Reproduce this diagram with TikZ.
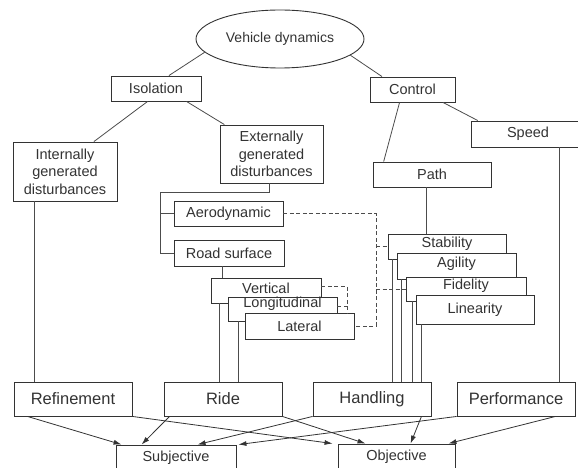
\documentclass[tikz,border=0pt]{standalone}
\usepackage{fontspec}
\setmainfont{Liberation Sans}
\usetikzlibrary{arrows.meta, shapes.geometric}

\begin{document}
\begin{tikzpicture}[x=1pt, y=-1pt,
      box/.style={draw=black!80, line width=0.9pt, fill=white, inner sep=0pt, text=black!80, align=center, font=\fontsize{14.5}{17.5}\selectfont},
      bigbox/.style={box, minimum width=118pt, minimum height=34pt, font=\fontsize{16.5}{19}\selectfont},
      oval/.style={ellipse, draw=black!80, line width=0.9pt, inner sep=0pt, minimum width=168pt, minimum height=58pt, text=black!80, font=\fontsize{14}{17}\selectfont},
      tag/.style={text=black!80, font=\fontsize{14.5}{17.5}\selectfont},
      conn/.style={black!70, line width=0.8pt},
      dashline/.style={black!70, line width=0.9pt, dash pattern=on 4pt off 2.5pt},
      arrow/.style={black!80, line width=0.8pt, -{Latex[length=8pt, width=5pt]}}
      ]
    \useasboundingbox (0,0) rectangle (578,468);
    \clip (0,0) rectangle (578,468);

    % Nodes
    \node[oval] (vd) at (280,39) {Vehicle dynamics};
    \node[box, minimum width=90pt, minimum height=25pt] (isolation) at (156,88.5) {Isolation};
    \node[box, minimum width=85pt, minimum height=25pt] (control) at (412.5,89.5) {Control};
    \node[box, minimum width=104pt, minimum height=59pt] (internal) at (65,171.5) {Internally\\generated\\disturbances};
    \node[box, minimum width=103pt, minimum height=58pt] (external) at (271.5,154) {Externally\\generated\\disturbances};
    \node[box, minimum width=114pt, minimum height=26pt] (speed) at (528,134) {Speed};
    \node[box, minimum width=118pt, minimum height=25pt] (pathctl) at (432,174.5) {Path};
    \node[box, minimum width=109pt, minimum height=25pt] (aero) at (228.5,213.5) {Aerodynamic};
    \node[box, minimum width=110pt, minimum height=26pt] (road) at (229,253) {Road surface};
    \node[box, minimum width=110pt, minimum height=25pt, label={[tag, yshift=2.5pt]center:Vertical}] (vert) at (266,290.5) {};
    \node[box, minimum width=109pt, minimum height=24pt, label={[tag, yshift=5pt]center:Longitudinal}] (longit) at (282.5,309) {};
    \node[box, minimum width=109pt, minimum height=26pt] (lat) at (299.5,326) {Lateral};
    \node[box, minimum width=118pt, minimum height=25pt, label={[tag, yshift=2.5pt]center:Stability}] (stab) at (447,246.5) {};
    \node[box, minimum width=119pt, minimum height=26pt, label={[tag, yshift=2pt]center:Agility}] (agil) at (456.5,266) {};
    \node[box, minimum width=120pt, minimum height=24pt, label={[tag, yshift=3pt]center:Fidelity}] (fid) at (466,289) {};
    \node[box, minimum width=118pt, minimum height=29pt] (lin) at (475,309.5) {Linearity};
    \node[bigbox] (refine) at (73,399) {Refinement};
    \node[bigbox] (ride) at (223,399) {Ride};
    \node[bigbox] (handling) at (372,399) {Handling};
    \node[bigbox] (perf) at (516,399) {Performance};
    \node[box, minimum width=120pt, minimum height=26pt] (subj) at (176,458) {Subjective};
    \node[box, minimum width=117pt, minimum height=26pt] (obj) at (396.5,457) {Objective};

    % Tree
    \draw[conn] (vd.190) -- (isolation.45);
    \draw[conn] (vd.347) -- (control.157);
    \draw[conn] (isolation.237) -- (internal.46);
    \draw[conn] (isolation.337) -- (external.148);
    \draw[conn] (control.225) -- (pathctl.165);
    \draw[conn] (control.337) -- (speed.165);
    \draw[conn] ([xshift=-6pt]pathctl.south) -- ([xshift=-6pt]pathctl.south |- stab.north);
    \draw[conn] ([xshift=31pt]speed.south) -- ([xshift=31pt]speed.south |- perf.north);
    \draw[conn] ([xshift=-31pt]internal.south) -- ([xshift=-31pt]internal.south |- refine.north);
    \coordinate (bus) at (160,192);
    \draw[conn] ([xshift=-2.5pt]external.south) |- (bus) |- (road.west);
    \draw[conn] (bus |- aero.west) -- (aero.west);
    \draw[conn] ([xshift=-7pt]road.south) -- ([xshift=-7pt]road.south |- vert.north);
    \draw[conn] ([xshift=-4pt]ride.north) -- ([xshift=-4pt]ride.north |- vert.south);
    \draw[conn] ([xshift=15pt]ride.north) -- ([xshift=15pt]ride.north |- longit.south);
    \draw[conn] ([xshift=20pt]handling.north) -- ([xshift=20pt]handling.north |- stab.south);
    \draw[conn] ([xshift=29pt]handling.north) -- ([xshift=29pt]handling.north |- agil.south);
    \draw[conn] ([xshift=40pt]handling.north) -- ([xshift=40pt]handling.north |- fid.south);
    \draw[conn] ([xshift=49pt]handling.north) -- ([xshift=49pt]handling.north |- lin.south);

    % Dashed links
    \coordinate (dr) at (376,326);
    \draw[dashline] (aero.east) -| (dr) -- (lat.east);
    \draw[dashline] (dr |- stab.west) -- (stab.west);
    \draw[dashline] (dr |- fid.west) -- (fid.west);
    \coordinate (vr) at (347,313);
    \draw[dashline] ([yshift=4pt]vert.east) -| (vr);
    \draw[dashline] ([yshift=3pt]longit.east) -- ([yshift=3pt]longit.east -| vr);

    % Arrows
    \draw[arrow] ([xshift=14pt]refine.south west) -- ([xshift=6pt]subj.north west);
    \draw[arrow] (refine.south east) -- ([xshift=-5pt]obj.north west);
    \draw[arrow] ([xshift=6pt]ride.south west) -- ([xshift=26pt]subj.north west);
    \draw[arrow] (ride.south east) -- ([xshift=28pt]obj.north west);
    \draw[arrow] (handling.south west) -- ([xshift=82pt]subj.north west);
    \draw[arrow] ([xshift=-10pt]handling.south east) -- ([xshift=73pt]obj.north west);
    \draw[arrow] (perf.south west) -- ([xshift=2pt]subj.north east);
    \draw[arrow] ([xshift=-20pt]perf.south east) -- ([xshift=-7pt]obj.north east);

    \end{tikzpicture}
\end{document}
